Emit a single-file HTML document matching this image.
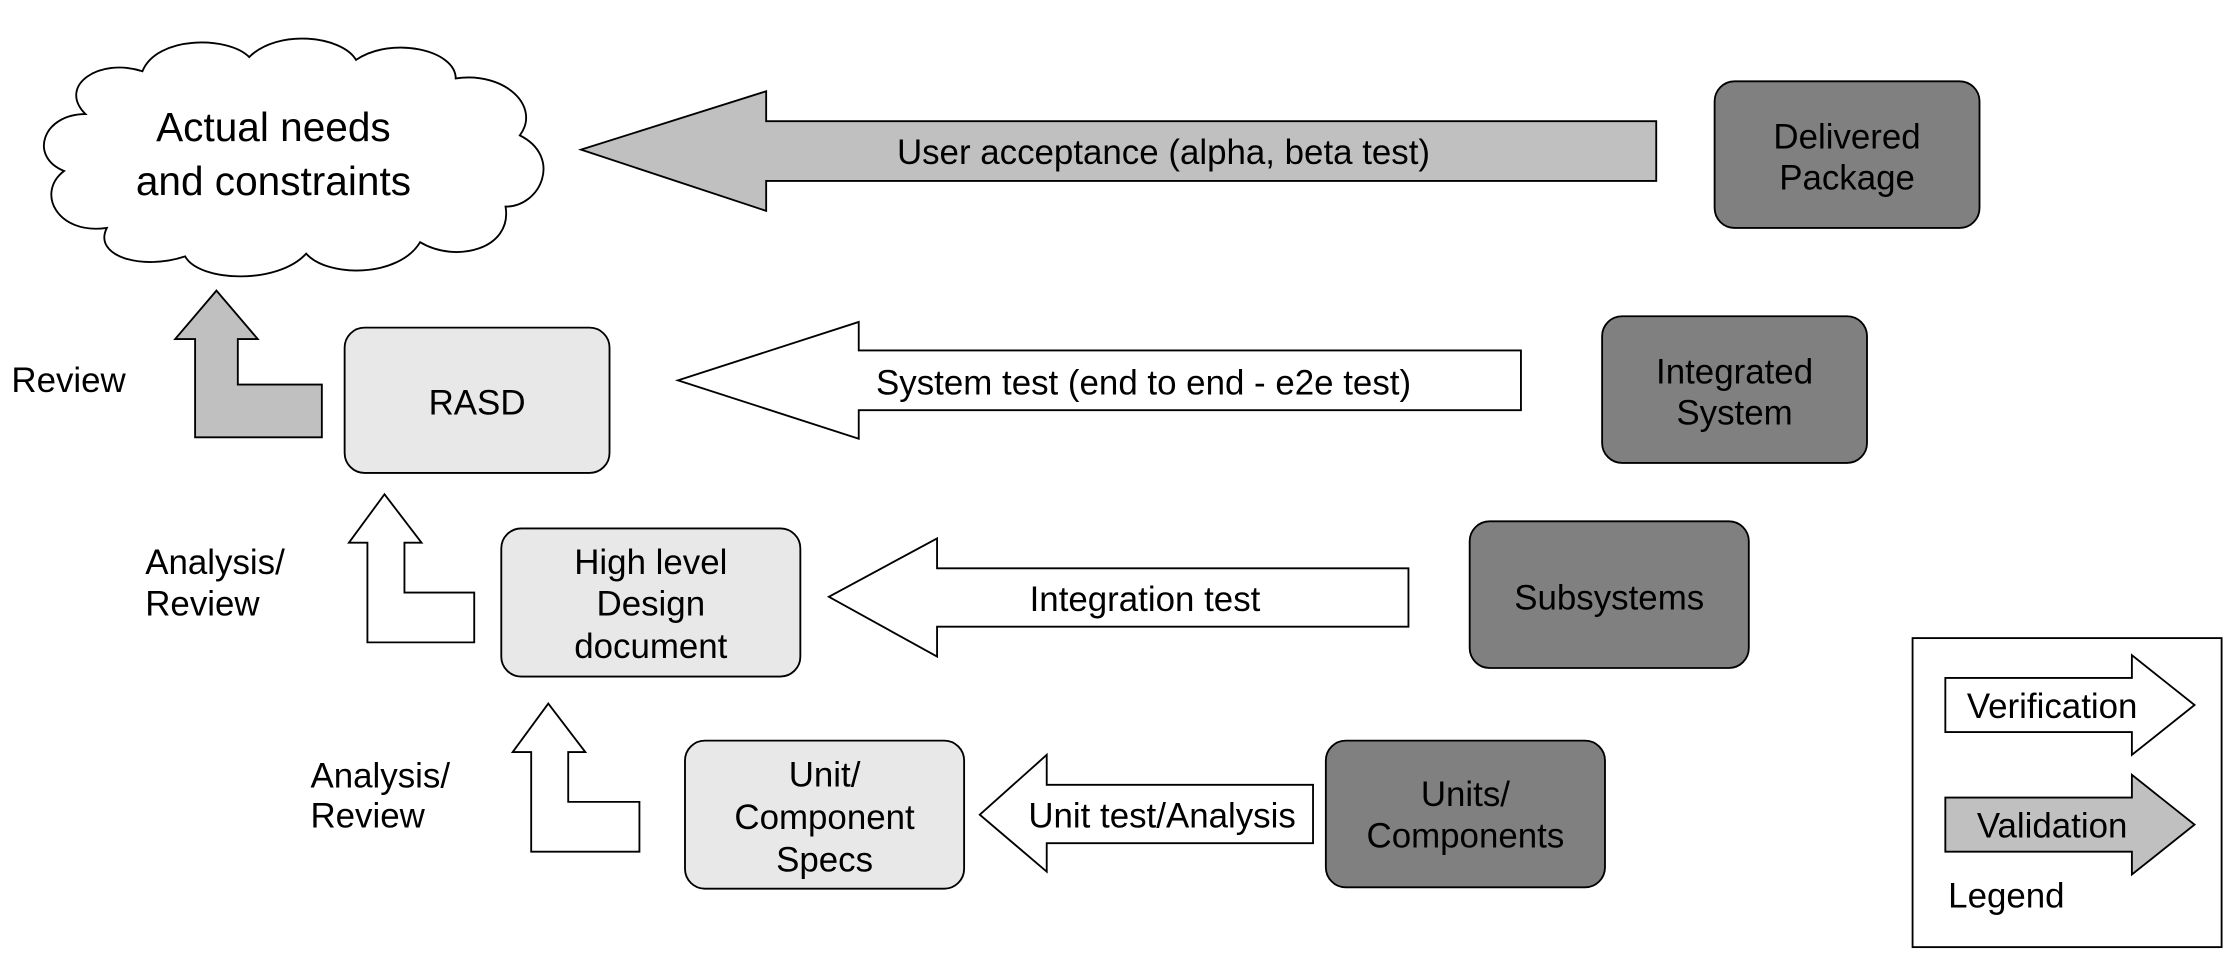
<!DOCTYPE html>
<html><head><meta charset="utf-8"><style>html,body{margin:0;padding:0;background:#fff}svg{display:block}</style></head>
<body>
<svg width="2233" height="970" viewBox="0 0 1568 681" xmlns="http://www.w3.org/2000/svg" font-family="Liberation Sans, Arial, sans-serif" font-size="24.5" fill="#000">
<g stroke="#000" stroke-width="1.3">
<path d="M60,80 C40,60 70,40 100,50 C110,25 160,25 175,40 C195,20 240,25 250,42 C275,25 320,35 320,55 C355,50 380,75 365,95 C395,110 380,145 355,145 C360,175 320,185 295,170 C280,195 230,195 215,178 C195,200 140,198 130,180 C100,190 65,180 75,160 C40,165 25,135 45,120 C20,110 30,80 60,80 Z" fill="#fff"/>
<polygon points="408,105 538,64 538,85 1163,85 1163,127 538,127 538,148" fill="#c0c0c0"/>
<rect x="1204" y="57" width="186" height="103" rx="14" fill="#808080"/>
<polygon points="476,267 603,226 603,246 1068,246 1068,288 603,288 603,308" fill="#fff"/>
<rect x="1125" y="222" width="186" height="103" rx="14" fill="#808080"/>
<rect x="242" y="230" width="186" height="102" rx="14" fill="#e8e8e8"/>
<polygon points="152,204 181,238 167,238 167,270 226,270 226,307 137,307 137,238 123,238" fill="#c0c0c0"/>
<polygon points="582,419 658,378 658,399 989,399 989,440 658,440 658,461" fill="#fff"/>
<rect x="1032" y="366" width="196" height="103" rx="14" fill="#808080"/>
<rect x="352" y="371" width="210" height="104" rx="14" fill="#e8e8e8"/>
<polygon points="270,347 296,381 284,381 284,416 333,416 333,451 258,451 258,381 245,381" fill="#fff"/>
<polygon points="688,572 735,530 735,551 922,551 922,592 735,592 735,612" fill="#fff"/>
<rect x="931" y="520" width="196" height="103" rx="14" fill="#808080"/>
<rect x="481" y="520" width="196" height="104" rx="14" fill="#e8e8e8"/>
<polygon points="385,494 411,528 399,528 399,563 449,563 449,598 373,598 373,528 360,528" fill="#fff"/>
<rect x="1343" y="448" width="217" height="217" fill="#fff"/>
<polygon points="1366,476 1497,476 1497,460 1541,495 1497,530 1497,514 1366,514" fill="#fff"/>
<polygon points="1366,560 1497,560 1497,544 1541,579 1497,614 1497,598 1366,598" fill="#c0c0c0"/>
</g>
<g dominant-baseline="central" text-anchor="middle">
<text x="192" y="89" font-size="28.5">Actual needs</text>
<text x="192" y="127" font-size="28.5">and constraints</text>
<text x="817" y="107">User acceptance (alpha, beta test)</text>
<text x="1297" y="96">Delivered</text>
<text x="1297" y="125">Package</text>
<text x="803" y="269">System test (end to end - e2e test)</text>
<text x="1218" y="261">Integrated</text>
<text x="1218" y="290">System</text>
<text x="335" y="283">RASD</text>
<text x="804" y="421">Integration test</text>
<text x="1130" y="420">Subsystems</text>
<text x="457" y="395">High level</text>
<text x="457" y="424">Design</text>
<text x="457" y="454">document</text>
<text x="816" y="573">Unit test/Analysis</text>
<text x="1029" y="558">Units/</text>
<text x="1029" y="587">Components</text>
<text x="579" y="544">Unit/</text>
<text x="579" y="574">Component</text>
<text x="579" y="604">Specs</text>
<text x="1441" y="496">Verification</text>
<text x="1441" y="580">Validation</text>
</g>
<g dominant-baseline="central">
<text x="8" y="267">Review</text>
<text x="102" y="395">Analysis/</text>
<text x="102" y="424">Review</text>
<text x="218" y="545">Analysis/</text>
<text x="218" y="573">Review</text>
<text x="1368" y="629">Legend</text>
</g>
</svg>
</body></html>
